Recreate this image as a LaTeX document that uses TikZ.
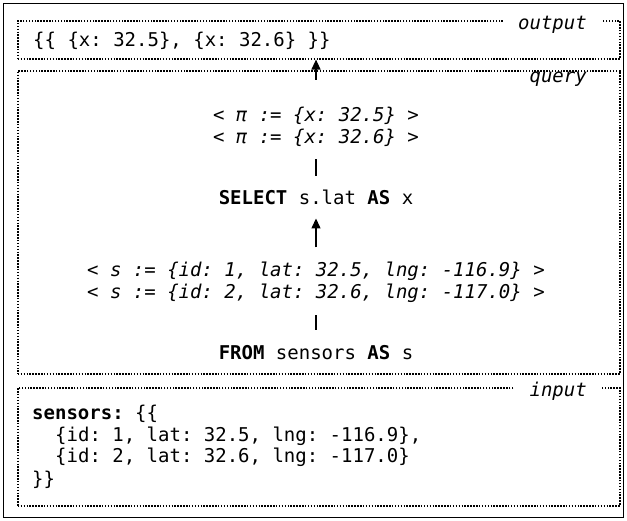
\documentclass[tikz,border=0pt]{standalone}
\usepackage{fontspec}
\setmonofont{DejaVu Sans Mono}
\usetikzlibrary{arrows.meta}
\begin{document}
\begin{tikzpicture}[x=1pt,y=-1pt,
  base/.style={font=\ttfamily\frenchspacing\fontsize{19}{21.5}\selectfont},
  txt/.style={base, inner sep=0pt, anchor=base},
  txtl/.style={base, inner sep=0pt, anchor=base west},
  itx/.style={base, font=\ttfamily\itshape\frenchspacing\fontsize{19}{21.5}\selectfont, inner sep=0pt, anchor=base},
  lbl/.style={itx, anchor=base east, fill=white, inner xsep=15pt},
  box/.style={draw, line width=1.6pt, dash pattern=on 1.5pt off 1.4pt, inner sep=0pt, anchor=north west},
  con/.style={line width=1.3pt},
  arr/.style={con, -{Triangle[length=10pt,width=9pt]}},
]
\useasboundingbox (0,0) rectangle (627,521);
\draw[line width=1.8pt] (3.5,3.5) rectangle (623.5,517.5);

% boxes
\node[box, minimum width=602pt, minimum height=38pt] (outbox) at (17,20) {};
\node[box, minimum width=602pt, minimum height=303pt] (qbox) at (17,70) {};
\node[box, minimum width=602pt, minimum height=118pt] (inbox) at (17,387) {};

\node[lbl] (lout) at (602,30) {output};
\node[lbl] (lq) at (602,83) {query};
\node[lbl] (lin) at (602,397) {input};

% output
\node[txtl] (outtxt) at (33,47) {\{\{ \{x: 32.5\}, \{x: 32.6\} \}\}};

% query
\node[itx] (pi1) at (316,122) {< π := \{x: 32.5\} >};
\node[itx] (pi2) at (316,144) {< π := \{x: 32.6\} >};
\node[txt] (sel) at (316,205) {\textbf{SELECT} s.lat \textbf{AS} x};
\node[itx] (s1) at (316,277) {< s := \{id: 1, lat: 32.5, lng: -116.9\} >};
\node[itx] (s2) at (316,299) {< s := \{id: 2, lat: 32.6, lng: -117.0\} >};
\node[txt] (from) at (316,360) {\textbf{FROM} sensors \textbf{AS} s};
\coordinate (qa) at (316,80);

% input
\node[txtl] (in1) at (32,420) {\textbf{sensors:} \{\{};
\node[txtl] (in2) at (55,442) {\{id: 1, lat: 32.5, lng: -116.9\},};
\node[txtl] (in3) at (55,463) {\{id: 2, lat: 32.6, lng: -117.0\}};
\node[txtl] (in4) at (32,485) {\}\}};

% connectors
\draw[arr] (qa) -- (qa |- outbox.south);
\draw[con, shorten <=12pt, shorten >=14pt] (pi2.south) -- (sel.north);
\draw[arr, shorten <=15pt, shorten >=13pt] (s1.north) -- (sel.south);
\draw[con, shorten <=12pt, shorten >=16pt] (s2.south) -- (from.north);
\end{tikzpicture}
\end{document}
